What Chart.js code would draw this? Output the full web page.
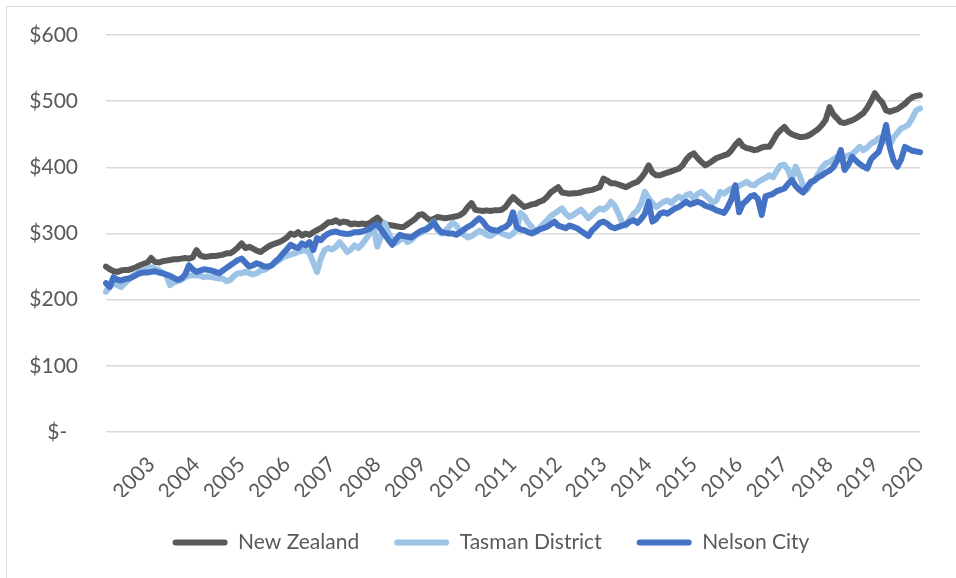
<!DOCTYPE html>
<html lang="en">
<head>
<meta charset="UTF-8">
<title>Mean weekly rent</title>
<script src="https://cdn.jsdelivr.net/npm/chart.js@4.4.3/dist/chart.umd.min.js"></script>
<style>
  html, body { margin: 0; padding: 0; background: #fff; }
  #frame { position: absolute; left: 6px; top: 6px; right: 0; bottom: 0; border-left: 1px solid #d9d9d9; border-top: 1px solid #d9d9d9; }
  #chart { position: absolute; left: 0; top: 0; }
</style>
</head>
<body>
<div id="frame"></div>
<canvas id="chart" width="956" height="578"></canvas>
<script>
// monthly series, Jan 2002 .. Jan 2020 (one row per year)
const years = ['2002','2003','2004','2005','2006','2007','2008','2009','2010','2011',
               '2012','2013','2014','2015','2016','2017','2018','2019'];
const yearTicks = ['2003','2004','2005','2006','2007','2008','2009','2010','2011',
                   '2012','2013','2014','2015','2016','2017','2018','2019','2020'];
const seriesNames = ['New Zealand', 'Tasman District', 'Nelson City'];

const newZealand = [
  250, 246, 243, 242, 244, 245, 245, 247, 249, 252, 254, 256,
  263, 257, 256, 258, 259, 260, 261, 261, 262, 263, 262, 264,
  275, 267, 265, 265, 266, 266, 267, 268, 270, 270, 274, 279,
  285, 278, 280, 277, 274, 272, 276, 280, 283, 285, 287, 290,
  294, 300, 298, 302, 297, 300, 298, 302, 305, 308, 312, 317,
  317, 320, 316, 318, 317, 314, 315, 314, 315, 314, 316, 320,
  324, 318, 314, 313, 312, 311, 310, 310, 314, 318, 322, 328,
  329, 324, 320, 322, 325, 324, 323, 324, 325, 326, 328, 332,
  340, 346, 336, 335, 334, 335, 334, 335, 335, 336, 340, 348,
  355, 350, 345, 340, 342, 344, 345, 348, 350, 355, 362, 366,
  370, 362, 361, 360, 361, 361, 362, 364, 365, 366, 368, 370,
  383, 380, 376, 376, 374, 372, 370, 373, 376, 378, 384, 392,
  403, 392, 388, 388, 390, 392, 394, 396, 398, 403, 412, 418,
  421, 414, 408, 403, 406, 410, 414, 416, 418, 420, 426, 434,
  440, 432, 429, 428, 426, 427, 430, 431, 431, 440, 450, 456,
  461, 454, 450, 448, 446, 446, 447, 450, 454, 458, 464, 472,
  491, 480, 474, 468, 467, 469, 471, 474, 478, 482, 490, 500,
  512, 504, 498, 486, 484, 486, 488, 492, 496, 502, 506, 508,
  509
];

const tasman = [
  212, 220, 225, 222, 219, 225, 230, 235, 240, 242, 245, 247,
  249, 246, 245, 240, 237, 222, 226, 228, 230, 234, 236, 237,
  237, 236, 234, 235, 234, 233, 232, 232, 228, 230, 236, 240,
  240, 242, 240, 238, 240, 244, 245, 248, 252, 256, 260, 264,
  266, 268, 270, 272, 274, 275, 270, 256, 242, 262, 275, 278,
  276, 280, 287, 280, 272, 276, 282, 278, 284, 292, 300, 310,
  280, 296, 316, 300, 290, 286, 290, 294, 287, 290, 296, 300,
  302, 308, 312, 318, 305, 300, 304, 310, 316, 312, 302, 298,
  294, 296, 300, 304, 302, 298, 296, 300, 304, 300, 298, 296,
  300, 306, 331, 326, 316, 310, 302, 308, 314, 320, 326, 330,
  334, 338, 330, 325, 328, 332, 336, 330, 323, 328, 334, 338,
  336, 340, 348, 342, 330, 316, 312, 322, 330, 335, 345, 363,
  353, 346, 340, 344, 348, 350, 346, 352, 356, 352, 358, 360,
  352, 360, 363, 358, 353, 346, 350, 363, 360, 365, 368, 370,
  372, 375, 378, 374, 373, 378, 381, 384, 388, 385, 395, 403,
  404, 396, 381, 401, 388, 372, 366, 375, 381, 390, 400, 406,
  408, 412, 416, 414, 416, 418, 420, 425, 431, 426, 430, 436,
  439, 444, 446, 440, 434, 445, 452, 459, 461, 465, 475, 486,
  489
];

const nelson = [
  225, 219, 234, 230, 229, 231, 232, 234, 237, 240, 241, 241,
  242, 243, 241, 240, 238, 236, 233, 230, 232, 238, 252, 246,
  242, 244, 246, 245, 244, 242, 240, 244, 248, 252, 256, 260,
  262, 256, 250, 252, 255, 253, 250, 250, 252, 258, 263, 270,
  276, 283, 280, 278, 285, 282, 287, 275, 293, 290, 296, 300,
  302, 303, 301, 300, 299, 300, 302, 302, 303, 305, 307, 312,
  314, 306, 298, 290, 283, 292, 298, 296, 295, 294, 298, 302,
  305, 306, 310, 317, 308, 302, 301, 300, 300, 298, 302, 306,
  310, 313, 318, 323, 318, 310, 306, 305, 304, 308, 310, 315,
  332, 310, 306, 305, 302, 300, 303, 306, 308, 310, 314, 318,
  312, 310, 308, 312, 310, 308, 304, 300, 296, 305, 310, 316,
  318, 315, 310, 308, 310, 312, 314, 318, 320, 316, 322, 330,
  348, 318, 322, 330, 332, 330, 334, 338, 340, 344, 348, 344,
  346, 348, 346, 342, 340, 338, 335, 333, 331, 340, 352, 373,
  332, 345, 350, 356, 358, 352, 328, 356, 358, 360, 364, 366,
  368, 375, 381, 372, 366, 362, 370, 378, 380, 385, 388, 392,
  395, 400, 410, 426, 396, 404, 416, 410, 405, 401, 398, 412,
  418, 423, 440, 464, 430, 410, 401, 412, 431, 428, 425, 424,
  423
];

const colors = ['#595959', '#9dc3e6', '#4472c4'];

// month categories: "2002-01" ... "2020-01"
const months = [];
years.forEach(y => {
  for (let m = 1; m <= 12; m++) months.push(y + '-' + String(m).padStart(2, '0'));
});
months.push('2020-01');

const font = { family: 'Lato', size: 21 };
const textColor = '#595959';

function makeSet(i, values, order) {
  return {
    label: seriesNames[i],
    data: values,
    borderColor: colors[i],
    backgroundColor: colors[i],
    borderWidth: 6,
    pointRadius: 0,
    tension: 0,
    borderJoinStyle: 'round',
    borderCapStyle: 'round',
    order: order
  };
}

// nudge the legend a little to the right, like the original
const legendShift = {
  id: 'legendShift',
  afterLayout(chart) {
    chart.legend.left += 28;
    chart.legend.right += 28;
  }
};

new Chart(document.getElementById('chart'), {
  type: 'line',
  data: {
    labels: months,
    datasets: [
      makeSet(0, newZealand, 3),
      makeSet(1, tasman, 2),
      makeSet(2, nelson, 1)
    ]
  },
  options: {
    responsive: false,
    animation: false,
    layout: { padding: { left: 6, right: 36, top: 35, bottom: 15 } },
    scales: {
      x: {
        grid: { display: false },
        border: { display: false },
        ticks: {
          autoSkip: false,
          minRotation: 45,
          maxRotation: 45,
          padding: 12,
          color: textColor,
          font: font,
          callback: function (value) {
            const lab = this.getLabelForValue(value);
            const y = lab.slice(0, 4);
            if (lab.endsWith('-01') && yearTicks.includes(y)) return y;
            return null;
          }
        },
        afterFit: s => { s.height = 65; }
      },
      y: {
        min: 0,
        max: 600,
        ticks: {
          stepSize: 100,
          padding: 28,
          color: textColor,
          font: font,
          callback: v => v === 0 ? '$-  ' : '$' + v
        },
        grid: { color: '#d9d9d9', lineWidth: 1.5, drawTicks: false },
        border: { display: false },
        afterFit: s => {
          s.width = 100;
          // tick padding should not push the plot down
          s.paddingTop = 12;
          s.paddingBottom = 12;
        }
      }
    },
    plugins: {
      legend: {
        position: 'bottom',
        labels: {
          boxWidth: 55,
          boxHeight: 6,
          padding: 35,
          color: textColor,
          font: font,
          useBorderRadius: true,
          borderRadius: 3,
          sort: (a, b) => a.datasetIndex - b.datasetIndex,
          generateLabels: chart =>
            Chart.defaults.plugins.legend.labels.generateLabels(chart)
              .map(l => Object.assign(l, { lineWidth: 0 }))
        }
      },
      tooltip: { enabled: false }
    }
  },
  plugins: [legendShift]
});
</script>
</body>
</html>
